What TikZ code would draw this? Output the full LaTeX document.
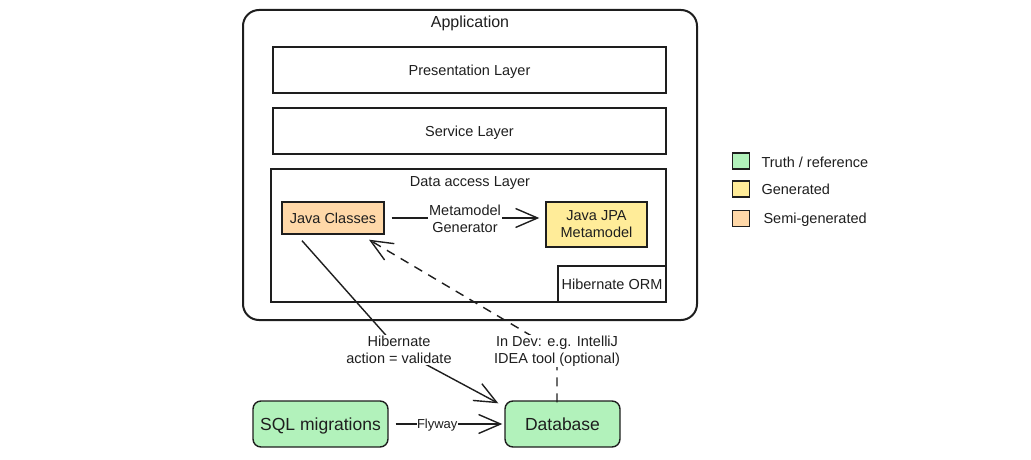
\documentclass[tikz,border=0pt]{standalone}
\usepackage{fontspec}
\setmainfont{Liberation Sans}
\usetikzlibrary{arrows.meta}
\definecolor{truth}{HTML}{B2F2BB}
\definecolor{gen}{HTML}{FFEC99}
\definecolor{semi}{HTML}{FFD8A8}
\definecolor{ink}{HTML}{1E1E1E}
\tikzset{
  base/.style={font=\fontsize{14.5}{17}\selectfont, text=ink},
  oneline/.style={text depth=0pt},
  layerbox/.style={base, oneline, draw=ink, line width=1.4pt, rectangle, inner sep=0pt},
  colbox/.style={base, draw=ink, line width=1.4pt, rectangle, inner sep=0pt, align=center},
  bigbox/.style={colbox, oneline, fill=truth, rounded corners=8pt, font=\fontsize{17.5}{20}\selectfont},
  lbl/.style={base, fill=white, inner sep=1pt, align=center},
  arr/.style={draw=ink, line width=1.4pt, -{Straight Barb[length=22pt,width=19pt,line width=1.4pt]}},
  legsq/.style={draw=ink, line width=1.2pt, minimum width=17pt, minimum height=16pt, inner sep=0pt},
  legtxt/.style={base, oneline, anchor=west}
}
\begin{document}
\begin{tikzpicture}[x=1pt,y=-1pt]
\useasboundingbox (0,0) rectangle (1031,460);
% application
\node[draw=ink, line width=2pt, rounded corners=16pt, minimum width=454pt, minimum height=310pt, inner sep=0pt] (app) at (470,165) {};
\node[base, oneline, font=\fontsize{16}{19}\selectfont] (apptitle) at (470,22) {Application};
% layers
\node[layerbox, minimum width=393pt, minimum height=46pt] (pres) at (469.5,70) {Presentation Layer};
\node[layerbox, minimum width=393pt, minimum height=46pt] (serv) at (469.5,131) {Service Layer};
\node[layerbox, minimum width=395pt, minimum height=133pt] (dal) at (468.5,235.5) {};
\node[base, oneline] (daltitle) at (470,182) {Data access Layer};
\node[colbox, oneline, fill=semi, minimum width=102pt, minimum height=32pt] (jc) at (333,218) {Java Classes};
\node[colbox, fill=gen, minimum width=101pt, minimum height=45pt] (jpa) at (596.5,224.5) {Java JPA\\Metamodel};
\node[colbox, oneline, minimum width=108pt, minimum height=36pt] (orm) at (612,284) {Hibernate ORM};
% bottom
\node[bigbox, minimum width=135pt, minimum height=46pt] (sql) at (320.5,424) {SQL migrations};
\node[bigbox, minimum width=115pt, minimum height=46pt] (db) at (562.5,424) {Database};
% arrows
\draw[arr, shorten <=7pt, shorten >=6pt] (jc.east) -- (jc.east -| jpa.west);
\node[lbl] (mmg) at (465,219) {Metamodel\\Generator};
\coordinate (hibc) at (399,350);
\draw[arr] ([xshift=-31pt,yshift=-6pt]jc.south) -- (hibc) -- ([xshift=-6pt,yshift=-3pt]db.north west);
\node[lbl] (hibl) at (hibc) {Hibernate\\action = validate};
\coordinate (devc) at (557,351);
\draw[arr, dashed, dash pattern=on 9pt off 7pt] ([xshift=-5.5pt,yshift=-2pt]db.north) -- (devc) -- ([xshift=36pt,yshift=-5pt]jc.south);
\node[lbl] (devl) at (devc) {In Dev: e.g. IntelliJ\\IDEA tool (optional)};
\draw[arr, shorten <=7pt, shorten >=2pt] (sql.east) -- node[lbl, oneline, pos=0.42, font=\fontsize{13}{15}\selectfont, inner sep=0.5pt] (fly) {Flyway} (db.west);
% legend
\node[legsq, fill=truth] (lg1) at (741,161) {};
\node[legsq, fill=gen] (lg2) at (741,189) {};
\node[legsq, fill=semi] (lg3) at (741,218.5) {};
\node[legtxt] (lt1) at (758,162) {Truth / reference};
\node[legtxt] (lt2) at (758,189) {Generated};
\node[legtxt] (lt3) at (760,218) {Semi-generated};
\end{tikzpicture}
\end{document}
